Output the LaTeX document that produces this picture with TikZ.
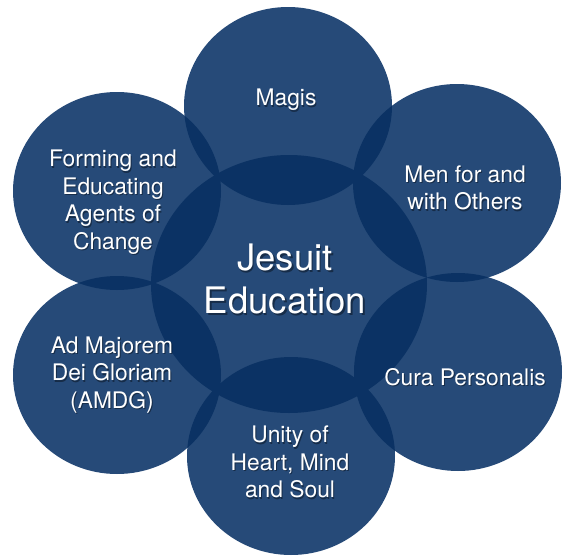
\documentclass[tikz,border=0pt]{standalone}
\usepackage{fontspec}
\setmainfont{TeX Gyre Heros}
\usepackage{tikz}

\definecolor{jnavy}{RGB}{38,74,120}
\definecolor{jdeep}{RGB}{11,50,100}

\begin{document}
\begin{tikzpicture}[x=1pt,y=-1pt]
	\tikzstyle{petal}=[fill=jnavy]
	\tikzstyle{overlap}=[fill=jdeep]
	\tikzstyle{petalsize}=[x radius=104,y radius=99]
	\tikzstyle{coresize}=[x radius=138,y radius=129]
	\tikzstyle{petaltext}=[text=white,align=center,font=\fontsize{22.8}{27.5}\selectfont]
	\tikzstyle{coretext}=[text=white,align=center,font=\fontsize{36.5}{43}\selectfont]
	\tikzstyle{drop}=[text=black,opacity=0.4]
	\useasboundingbox (0,0) rectangle (566,557);
	% centres of the circles
	\coordinate (core) at (289,284);
	\coordinate (magis) at (288,106);
	\coordinate (men) at (457,183);
	\coordinate (cura) at (458,372);
	\coordinate (unity) at (291,456);
	\coordinate (amdg) at (117,375);
	\coordinate (forming) at (117,191);
	% discs
	\fill[petal] (core) ellipse [coresize];
	\foreach \p in {magis,men,cura,unity,amdg,forming}
		\fill[petal] (\p) ellipse [petalsize];
	% darker lenses where two discs meet
	\foreach \p in {magis,men,cura,unity,amdg,forming}{
		\begin{scope}
			\clip (core) ellipse [coresize];
			\fill[overlap] (\p) ellipse [petalsize];
		\end{scope}
	}
	\foreach \p/\q in {magis/men,men/cura,cura/unity,unity/amdg,amdg/forming,forming/magis}{
		\begin{scope}
			\clip (\p) ellipse [petalsize];
			\fill[overlap] (\q) ellipse [petalsize];
		\end{scope}
	}
	% labels, each with a faint shadow
	\foreach \n/\x/\y/\t in {magis/286/100/{Magis},
		men/465/188/{Men for and\\with Others},
		cura/465/377/{Cura Personalis},
		unity/290/462/{Unity of\\Heart, Mind\\and Soul},
		amdg/112/375/{Ad Majorem\\Dei Gloriam\\(AMDG)},
		forming/113/202/{Forming and\\Educating\\Agents of\\Change}}{
		\node[petaltext,drop] (\n-shadow) at (\x+1,\y+1.5) {\t};
		\node[petaltext] (\n-text) at (\x,\y) {\t};
	}
	\node[coretext,drop] (core-shadow) at (286.5,281) {Jesuit\\Education};
	\node[coretext] (core-text) at (285,279) {Jesuit\\Education};
\end{tikzpicture}
\end{document}
